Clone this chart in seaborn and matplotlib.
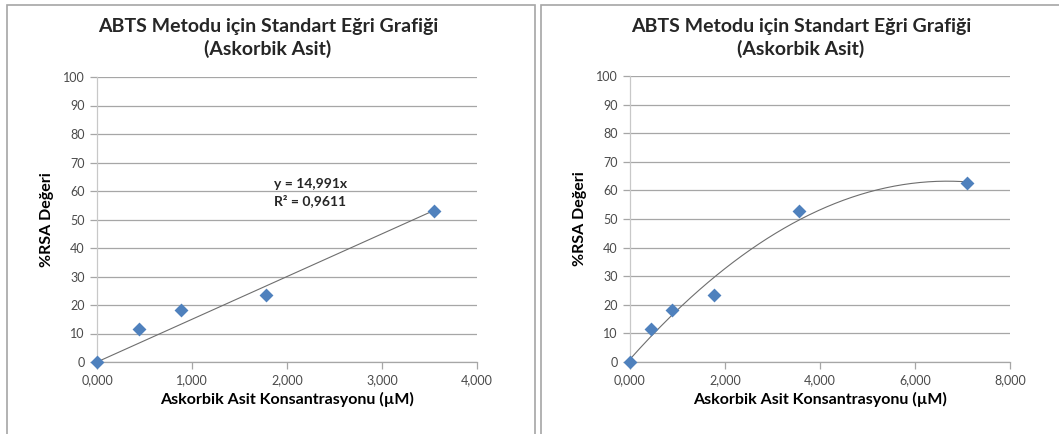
import numpy as np
import pandas as pd
import matplotlib
matplotlib.use("Agg")
import matplotlib.pyplot as plt
from matplotlib.patches import Rectangle
from matplotlib.ticker import FuncFormatter, MultipleLocator
import seaborn as sns

# ---- data ----
conc_left = [0.0, 0.444, 0.888, 1.775, 3.55]
rsa_left = [0.0, 11.7, 18.1, 23.4, 52.9]
conc_right = [0.0, 0.444, 0.888, 1.775, 3.55, 7.1]
rsa_right = [0.0, 11.7, 18.1, 23.4, 52.9, 62.5]
slope_left = 14.991
eq_text = "y = 14,991x\nR² = 0,9611"
title = "ABTS Metodu için Standart Eğri Grafiği\n(Askorbik Asit)"
xlabel = "Askorbik Asit Konsantrasyonu (µM)"
ylabel = "%RSA Değeri"

sns.set_theme(style="white")
plt.rcParams['font.family'] = ['Lato', 'DejaVu Sans']

W, H = 1059, 434
fig = plt.figure(figsize=(W / 100, H / 100), dpi=100)

def fx(px):
    return px / W

def fy(py):
    return 1 - py / H

ax1 = fig.add_axes([fx(97), fy(362), fx(477 - 97), (362 - 77) / H])
ax2 = fig.add_axes([fx(630), fy(362), fx(1010 - 630), (362 - 76) / H])

marker_color = "#4F81BD"
grid_color = "#a6a6a6"
spine_color = "#a6a6a6"
line_color = "#6e6e6e"
tick_color = "#4a4a4a"

def comma_fmt(v, pos):
    return f"{v:.3f}".replace(".", ",")

def style(ax, xmax, xstep):
    ax.set_xlim(0, xmax)
    ax.set_ylim(0, 100)
    ax.xaxis.set_major_locator(MultipleLocator(xstep))
    ax.yaxis.set_major_locator(MultipleLocator(10))
    ax.xaxis.set_major_formatter(FuncFormatter(comma_fmt))
    ax.grid(axis="y", color=grid_color, lw=0.9)
    ax.grid(axis="x", visible=False)
    ax.set_axisbelow(True)
    for s in ["top", "right"]:
        ax.spines[s].set_visible(False)
    ax.spines["left"].set_color("#c8c8c8")
    ax.spines["bottom"].set_color(spine_color)
    for s in ["left", "bottom"]:
        ax.spines[s].set_linewidth(0.9)
    ax.tick_params(axis="both", direction="out", length=5, width=0.9,
                   color=spine_color, labelsize=9, labelcolor=tick_color, pad=4,
                   bottom=True, left=True)
    ax.set_xlabel(xlabel, fontsize=11.5, fontweight="bold", labelpad=4, color="black")
    ax.set_ylabel(ylabel, fontsize=11.5, fontweight="bold", labelpad=6, color="black")

# left panel: linear trendline through origin
df_l = pd.DataFrame({"x": conc_left, "y": rsa_left})
xl = np.array([0, max(conc_left)])
trend_l = pd.DataFrame({"x": xl, "y": slope_left * xl})
sns.lineplot(data=trend_l, x="x", y="y", ax=ax1, color=line_color, lw=0.8)
sns.scatterplot(data=df_l, x="x", y="y", ax=ax1, marker="D", s=50,
                color=marker_color, edgecolor=marker_color, linewidth=0, zorder=5)
style(ax1, 4, 1)
ax1.text(1.86, 64.5, eq_text, fontsize=10, fontweight="bold", va="top", ha="left",
         linespacing=1.4)

# right panel: quadratic trendline
df_r = pd.DataFrame({"x": conc_right, "y": rsa_right})
coef = np.polyfit(conc_right, rsa_right, 2)
xr = np.linspace(0, max(conc_right), 200)
trend_r = pd.DataFrame({"x": xr, "y": np.polyval(coef, xr)})
sns.lineplot(data=trend_r, x="x", y="y", ax=ax2, color=line_color, lw=0.8)
sns.scatterplot(data=df_r, x="x", y="y", ax=ax2, marker="D", s=50,
                color=marker_color, edgecolor=marker_color, linewidth=0, zorder=5)
style(ax2, 8, 2)

for a in (ax1, ax2):
    a.patch.set_alpha(0)
    for c in a.collections:
        c.set_clip_on(False)

# titles
fig.text(fx(268), fy(38), title, ha="center", va="center", fontsize=14,
         fontweight="bold", linespacing=1.35)
fig.text(fx(801), fy(38), title, ha="center", va="center", fontsize=14,
         fontweight="bold", linespacing=1.35)

# panel borders
fig.add_artist(Rectangle((fx(7), -0.1), fx(535 - 7), fy(5) + 0.1, fill=False,
                         edgecolor="#a6a6a6", lw=1.2, transform=fig.transFigure))
fig.add_artist(Rectangle((fx(541), -0.1), 0.6, fy(5) + 0.1, fill=False,
                         edgecolor="#a6a6a6", lw=1.2, transform=fig.transFigure))

fig.savefig("out.png", dpi=100, facecolor="white")
